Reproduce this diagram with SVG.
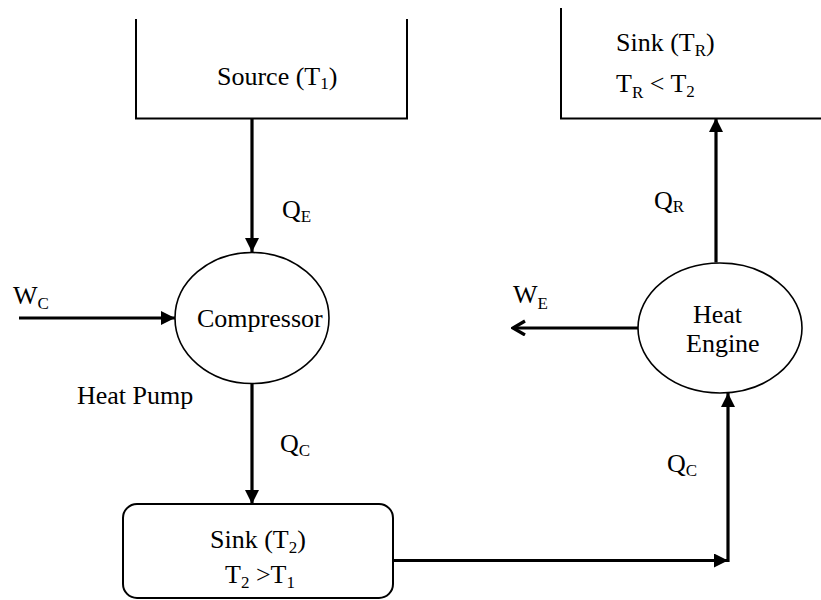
<svg xmlns="http://www.w3.org/2000/svg" width="821" height="600" viewBox="0 0 821 600">
<style>
text{font-family:"Liberation Serif","Times New Roman",serif;font-size:26px;fill:#000}
.sub{font-size:17px}
.box{fill:none;stroke:#000;stroke-width:2}
.node{fill:#fff;stroke:#000;stroke-width:1.6}
.conn{fill:none;stroke:#000;stroke-width:3.2}
</style>
<defs>
<marker id="arr" markerUnits="userSpaceOnUse" markerWidth="15" markerHeight="15" refX="14" refY="7" orient="auto" viewBox="0 0 15 15">
<path d="M0,0 L14,7 L0,14 z" fill="#000"/>
</marker>
<marker id="chev" markerUnits="userSpaceOnUse" markerWidth="16" markerHeight="18" refX="14" refY="8" orient="auto" viewBox="0 0 16 18">
<path d="M2,1 L14,8 L2,15" fill="none" stroke="#000" stroke-width="3.2"/>
</marker>
</defs>
<g id="source">
<path class="box" d="M136,19 V118.5 H407 V19"/>
<text x="217" y="85">Source (T<tspan class="sub" dy="4">1</tspan><tspan dy="-4">)</tspan></text>
</g>
<g id="sinkR">
<path class="box" d="M561,8 V118.5 H821"/>
<text x="616" y="51">Sink (T<tspan class="sub" dy="5">R</tspan><tspan dy="-5">)</tspan></text>
<text x="616" y="92">T<tspan class="sub" dy="6">R</tspan><tspan dy="-6"> &lt; T</tspan><tspan class="sub" dy="5">2</tspan></text>
</g>
<g id="compressor">
<ellipse class="node" cx="252" cy="318" rx="77" ry="65.5"/>
<text x="197" y="327">Compressor</text>
</g>
<g id="heatengine">
<ellipse class="node" cx="720" cy="328" rx="82" ry="65"/>
<text x="693" y="323">Heat</text>
<text x="686" y="352">Engine</text>
</g>
<g id="sink2">
<rect class="box" x="123" y="504" width="270" height="94" rx="14" ry="14"/>
<text x="210" y="548">Sink (T<tspan class="sub" dy="5">2</tspan><tspan dy="-5">)</tspan></text>
<text x="225" y="583">T<tspan class="sub" dy="5">2</tspan><tspan dy="-5"> &gt;T</tspan><tspan class="sub" dy="5">1</tspan></text>
</g>
<g id="heatpump-label">
<text x="77" y="404">Heat Pump</text>
</g>
<g id="connectors">
<line class="conn" x1="252" y1="118" x2="252" y2="252" marker-end="url(#arr)"/>
<line class="conn" x1="19" y1="318" x2="175" y2="318" marker-end="url(#arr)"/>
<line class="conn" x1="252" y1="383.5" x2="252" y2="504" marker-end="url(#arr)"/>
<line class="conn" x1="393" y1="560.5" x2="728" y2="560.5" marker-end="url(#arr)"/>
<line class="conn" x1="728" y1="562" x2="728" y2="393" marker-end="url(#arr)"/>
<line class="conn" x1="716" y1="262.5" x2="716" y2="118" marker-end="url(#arr)"/>
<line class="conn" x1="638" y1="328" x2="513" y2="328" marker-end="url(#chev)"/>
<text x="282" y="218">Q<tspan class="sub" dy="4">E</tspan></text>
<text x="13" y="304">W<tspan class="sub" dy="5">C</tspan></text>
<text x="280" y="452">Q<tspan class="sub" dy="4">C</tspan></text>
<text x="513" y="303">W<tspan class="sub" dy="6">E</tspan></text>
<text x="654" y="209">Q<tspan class="sub" dy="3">R</tspan></text>
<text x="667" y="472">Q<tspan class="sub" dy="4">C</tspan></text>
</g>
</svg>
